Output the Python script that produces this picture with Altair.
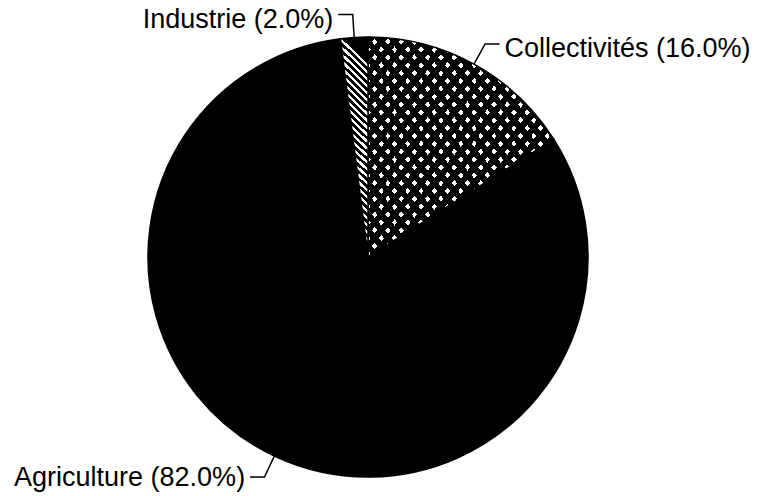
import math
import altair as alt
import pandas as pd

# ---- data ----
categories = ["Collectivités", "Agriculture", "Industrie"]
shares = [16.0, 82.0, 2.0]

# ---- layout (pixels) ----
W, H = 744, 488
CX, CY, R = 360, 249, 220
ELBOW = 1.105      # elbow of the leader line, in pie radii
ARM = 0.066        # horizontal arm of the leader line, in pie radii
GAP = 0.022        # gap between arm and label, in pie radii

df = pd.DataFrame({"cat": categories, "share": shares})
df["end"] = df["share"].cumsum()
df["start"] = df["end"] - df["share"]
df["mid"] = (df["start"] + df["end"]) / 2
df["label"] = [f"{c} ({v:.1f}%)" for c, v in zip(categories, shares)]

# leader lines, in pie-radius units (through x/y scales)
rows, labels = [], []
for _, r in df.iterrows():
    a = r["mid"] / 100 * 2 * math.pi
    s, c = math.sin(a), math.cos(a)
    side = 1 if s >= 0 else -1
    ex, ey = s * ELBOW, c * ELBOW
    rows += [
        {"cat": r["cat"], "pt": 0, "u": s, "v": c},
        {"cat": r["cat"], "pt": 1, "u": ex, "v": ey},
        {"cat": r["cat"], "pt": 2, "u": ex + side * ARM, "v": ey},
    ]
    labels.append({"cat": r["cat"], "label": r["label"],
                   "u": ex + side * (ARM + GAP), "v": ey,
                   "align": "left" if side > 0 else "right",
                   "dy": 13.5 if c > 0 else 9})
lines_df = pd.DataFrame(rows)
labels_df = pd.DataFrame(labels)

xscale = alt.Scale(domain=[-CX / R, (W - CX) / R], range=[0, W], nice=False, zero=False)
yscale = alt.Scale(domain=[-(H - CY) / R, CY / R], range=[H, 0], nice=False, zero=False)
tscale = alt.Scale(domain=[0, 100])


def stripes(n, white, line_col, gap_col, x1, y1, x2, y2):
    stops = []
    for i in range(n):
        a = i / n
        b = (i + 1 - white) / n
        c = (i + 1) / n
        stops += [
            {"offset": a, "color": line_col},
            {"offset": b, "color": line_col},
            {"offset": b, "color": gap_col},
            {"offset": c, "color": gap_col},
        ]
    return {"gradient": "linear", "x1": x1, "y1": y1, "x2": x2, "y2": y2, "stops": stops}


hatch_a = stripes(28, 0.4, "#000000", "#ffffff", 0, 0, 1, 1)
hatch_b = stripes(28, 0.4, "#000000", "rgba(0,0,0,0)", 1, 0, 0, 1)
diag = stripes(32, 0.45, "#000000", "#ffffff", 0.12, 0, 0, 1)

base = alt.Chart(df)
enc = dict(
    theta=alt.Theta("start:Q", scale=tscale),
    theta2="end:Q",
    x=alt.value(CX),
    y=alt.value(CY),
)

agri = base.transform_filter(alt.datum.cat == "Agriculture").mark_arc(
    outerRadius=R, fill="black", stroke="black", strokeWidth=1.5
).encode(**enc)
coll_a = base.transform_filter(alt.datum.cat == "Collectivités").mark_arc(
    outerRadius=R, fill=hatch_a, stroke="black", strokeWidth=1.5
).encode(**enc)
coll_b = base.transform_filter(alt.datum.cat == "Collectivités").mark_arc(
    outerRadius=R, fill=hatch_b, strokeWidth=0
).encode(**enc)
indu = base.transform_filter(alt.datum.cat == "Industrie").mark_arc(
    outerRadius=R, fill=diag, stroke="black", strokeWidth=1.5
).encode(**enc)

leaders = alt.Chart(lines_df).mark_line(color="black", strokeWidth=1.5).encode(
    x=alt.X("u:Q", scale=xscale, axis=None),
    y=alt.Y("v:Q", scale=yscale, axis=None),
    detail="cat:N",
    order="pt:O",
)

text_layers = []
for _, lab in labels_df.iterrows():
    text_layers.append(
        alt.Chart(labels_df).transform_filter(alt.datum.cat == lab["cat"]).mark_text(
            font="Liberation Sans", fontSize=27, color="black",
            baseline="alphabetic", align=lab["align"], dy=float(lab["dy"]),
        ).encode(
            x=alt.X("u:Q", scale=xscale, axis=None),
            y=alt.Y("v:Q", scale=yscale, axis=None),
            text="label:N",
        )
    )

chart = alt.layer(agri, coll_a, coll_b, indu, leaders, *text_layers).properties(
    width=W, height=H, padding=0, background="white",
    autosize=alt.AutoSizeParams(type="none"),
).configure_view(stroke=None)

chart.save("out.html", embed_options={"renderer": "svg", "actions": False})
